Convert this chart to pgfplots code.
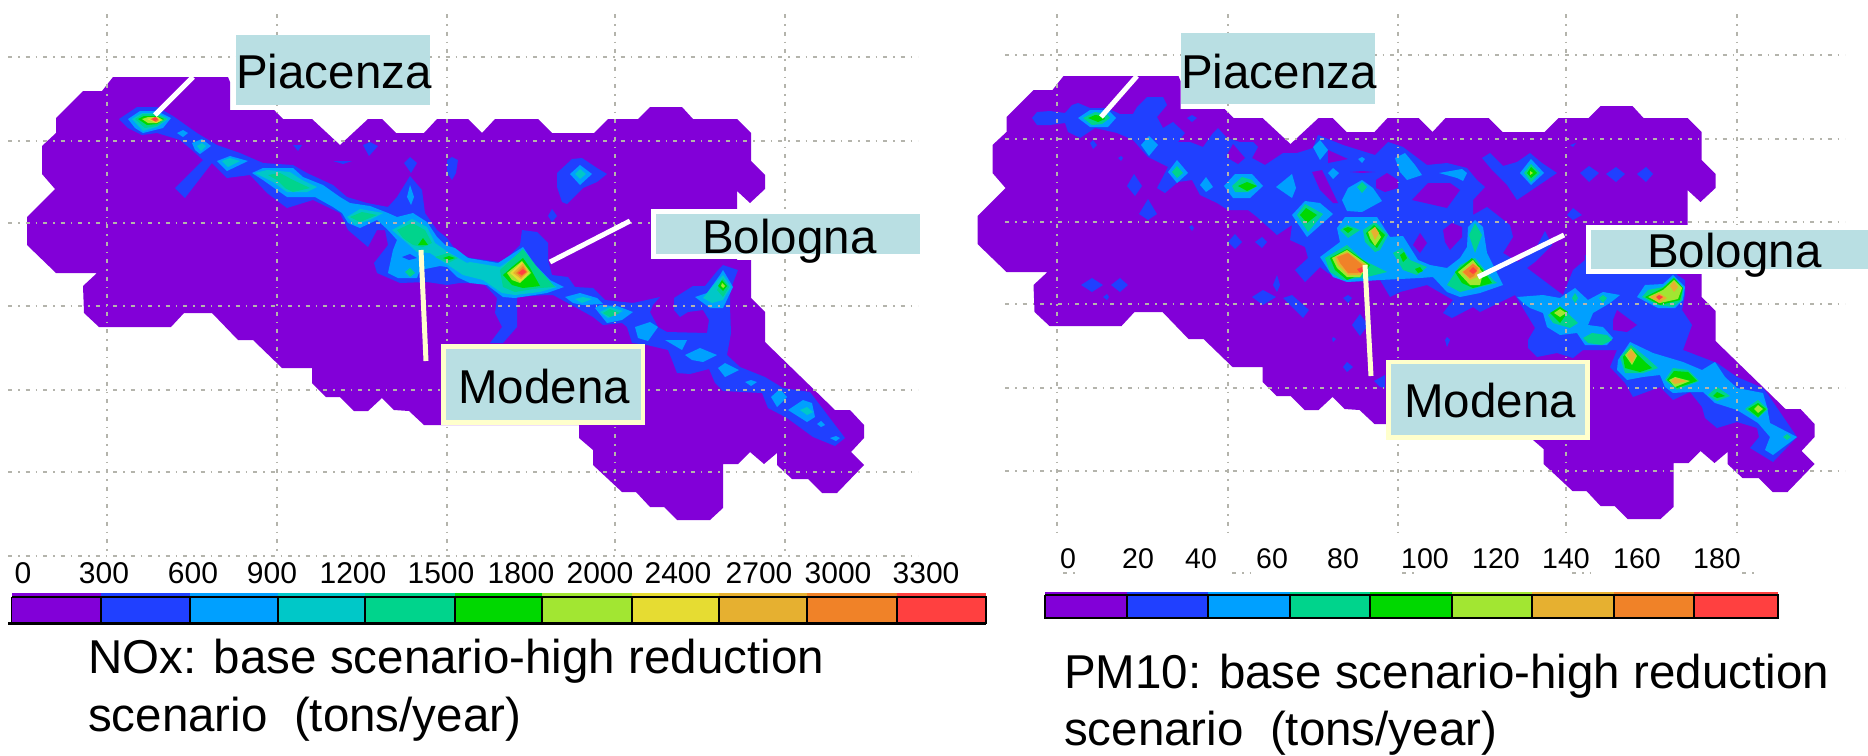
\documentclass[border=0pt]{standalone}
\usepackage{pgfplots}
\usepackage{pgfplotstable}
\usepackage{fontspec}
\setmainfont{Liberation Sans}
\pgfplotsset{compat=1.18}
\definecolor{cA}{HTML}{8200D8}
\definecolor{cB}{HTML}{2040FF}
\definecolor{cC}{HTML}{00A0FF}
\definecolor{cD}{HTML}{00C8C8}
\definecolor{cE}{HTML}{00D48C}
\definecolor{cF}{HTML}{00D800}
\definecolor{cG}{HTML}{A2E632}
\definecolor{cH}{HTML}{E6DC32}
\definecolor{cI}{HTML}{E6B030}
\definecolor{cJ}{HTML}{F08228}
\definecolor{cK}{HTML}{FF4040}
\definecolor{boxc}{HTML}{B9DFE3}
\definecolor{cream}{HTML}{FFFFCC}
\definecolor{gridc}{HTML}{B4B4AC}
\newcommand{\poly}[2]{\addplot[fill=#1,draw=none,mark=none,forget plot] coordinates {#2};}
\newcommand{\cell}[5]{\addplot[fill=#1,draw=black,line width=1.4pt,mark=none,forget plot] coordinates {(#2,#4) (#3,#4) (#3,#5) (#2,#5) (#2,#4)};}
\newcommand{\strip}[5]{\addplot[fill=#1,draw=none,mark=none,forget plot] coordinates {(#2,#4) (#3,#4) (#3,#5) (#2,#5)};}
\newcommand{\gridl}[4]{\addplot[gridc,line width=1.7pt,dash pattern=on 4pt off 6pt on 1.5pt off 6pt,mark=none,forget plot] coordinates {(#1,#2) (#3,#4)};}
\newcommand{\stick}[5]{\addplot[#1,line width=5pt,mark=none,forget plot] coordinates {(#2,#3) (#4,#5)};}
\newcommand{\rct}[5]{\addplot[fill=#1,draw=none,mark=none,forget plot] coordinates {(#2,#3) (#4,#3) (#4,#5) (#2,#5)};}
\newcommand{\bigtxt}[3]{\node[anchor=base west,inner sep=0pt,font=\fontsize{47.5}{50}\selectfont] at (axis cs:#1,#2) {#3};}
\newcommand{\tk}[3]{\node[anchor=base,inner sep=0pt,font=\fontsize{#3}{#3}\selectfont] at (axis cs:#1,#2) {\ifnum#2<570 \fi\tklabel};}
\newcommand{\tl}[4]{\node[anchor=base,inner sep=0pt,font=\fontsize{#3}{#3}\selectfont] at (axis cs:#1,#2) {#4};}
\pgfplotstableread{
x y
113 77
228 77
230 82
230 110
274 110
283 119
312 119
340 145
368 119
382 119
396 133
424 133
437 119
468 119
482 133
495 119
538 119
552 133
594 133
608 119
638 119
650 107
682 107
693 119
737 119
751 133
751 161
765 175
765 189
750 203
737 191
737 260
751 260
751 298
765 312
765 342
835 410
850 410
864 425
864 438
851 452
864 465
837 493
822 493
808 479
792 479
777 465
777 453
764 464
750 452
738 464
723 464
723 508
710 520
677 520
664 507
650 507
636 492
622 492
593 465
593 450
579 438
579 425
424 425
409 411
394 410
382 398
368 411
354 411
340 397
326 397
312 383
312 368
282 368
253 340
238 340
212 313
184 313
171 327
99 327
84 313
83 286
97 273
56 273
27 245
27 217
55 189
42 174
42 146
56 133
56 118
83 91
102 91
}\outline
\begin{document}
\begin{tikzpicture}
\path[use as bounding box] (0,0) rectangle (1868pt,755pt);
\begin{axis}[at={(0,0)},anchor=south west,scale only axis,width=1868pt,height=755pt,
  xmin=0,xmax=1868,ymin=0,ymax=755,y dir=reverse,hide axis,clip=false]
% ---------- left map ----------
\addplot[fill=cA,draw=none,mark=none,forget plot] table[x index=0,y index=1] {\outline};
% main blue band
\poly{cB}{(119,119)(137,107)(157,107)(173,116)(197,133)(217,145)(240,153)(263,163)(293,165)(307,173)(333,185)(347,197)(367,203)(388,207)(397,197)(410,176)(422,190)(425,213)(437,230)(447,238)(457,252)(470,258)(500,262)(508,257)(520,245)(522,230)(537,232)(548,243)(548,260)(552,275)(568,277)(575,287)(593,288)(605,300)(633,303)(660,297)(653,305)(650,312)(658,327)(667,332)(707,333)(709,320)(703,310)(688,312)(680,317)(674,310)(674,298)(693,286)(705,286)(718,270)(723,265)(738,270)(733,283)(730,293)(730,307)(731,333)(727,355)(740,367)(765,377)(783,388)(810,392)(845,438)(835,446)(813,437)(787,418)(768,408)(762,393)(723,391)(715,383)(709,369)(690,374)(677,373)(672,360)(668,350)(647,345)(632,343)(627,327)(622,323)(603,325)(593,317)(577,308)(553,295)(547,295)(517,297)(517,327)(503,343)(490,343)(502,327)(495,313)(497,298)(483,283)(460,283)(447,285)(427,282)(400,283)(377,273)(374,263)(388,245)(385,230)(377,230)(368,247)(348,230)(340,213)(313,200)(287,208)(267,193)(250,175)(227,178)(212,163)(185,198)(175,188)(203,160)(192,150)(180,140)(157,133)(142,135)(128,128)}
\poly{cB}{(410,157)(417,163)(411,173)(404,163)}
\poly{cB}{(293,145)(302,145)(298,151)}
\poly{cB}{(370,142)(378,146)(369,156)(363,145)}
\poly{cB}{(333,161)(352,161)(343,164)}
\poly{cB}{(452,157)(458,160)(456,173)(452,180)(447,173)(447,160)}
\poly{cB}{(552,209)(557,216)(552,222)(548,216)}
\poly{cB}{(557,173)(572,159)(582,158)(597,168)(607,174)(597,182)(583,188)(567,204)(562,202)(557,187)}
% light blue
\poly{cC}{(580,165)(592,174)(580,185)(570,174)}
\poly{cC}{(128,119)(140,111)(157,111)(171,118)(163,128)(143,133)(135,128)}
\poly{cC}{(177,133)(183,130)(188,133)(183,137)}
\poly{cC}{(192,143)(202,139)(211,146)(200,154)(195,150)}
\poly{cC}{(217,161)(230,156)(248,161)(227,171)}
\poly{cC}{(252,173)(263,168)(293,168)(303,177)(323,185)(340,197)(350,203)(370,206)(388,213)(397,217)(413,213)(427,222)(437,237)(445,245)(455,248)(468,258)(498,263)(523,247)(535,265)(550,280)(564,287)(547,293)(515,298)(503,297)(487,285)(470,283)(457,277)(447,267)(440,266)(420,270)(417,278)(398,278)(388,273)(393,250)(397,240)(388,230)(377,220)(360,228)(348,223)(342,213)(333,207)(315,197)(287,197)(277,190)(263,180)}
\poly{cB}{(402,257)(410,254)(417,258)(409,260)}
\poly{cC}{(407,197)(410,185)(414,197)(411,205)}
\poly{cC}{(565,297)(580,293)(597,298)(603,304)(583,305)(573,303)}
\poly{cC}{(595,308)(600,305)(617,306)(633,312)(622,320)(607,323)}
\poly{cC}{(635,327)(650,322)(658,327)(648,341)(638,338)}
\poly{cC}{(665,340)(687,340)(682,350)}
\poly{cC}{(685,355)(700,348)(717,355)(703,362)(692,360)}
\poly{cC}{(718,368)(725,363)(739,370)(725,377)}
\poly{cC}{(745,382)(751,380)(757,382)(751,386)}
\poly{cC}{(771,397)(780,389)(787,397)(777,407)}
\poly{cC}{(788,410)(803,400)(812,403)(815,417)(807,422)}
\poly{cC}{(817,424)(821,421)(825,425)(821,427)}
\poly{cC}{(830,438)(836,436)(840,438)(836,441)}
\poly{cC}{(695,297)(707,293)(720,275)(723,270)(733,287)(723,308)(710,308)}
% cyan
\poly{cD}{(580,169)(586,174)(580,179)(575,174)}
\poly{cD}{(132,119)(142,113)(157,113)(168,119)(157,127)(143,131)}
\poly{cD}{(197,146)(202,143)(206,146)(201,151)}
\poly{cD}{(222,161)(230,158)(240,161)(228,167)}
\poly{cD}{(255,173)(267,170)(290,172)(302,180)(317,187)(307,192)(287,192)(273,182)}
\poly{cD}{(347,217)(360,209)(383,213)(370,220)(355,225)}
\poly{cD}{(392,230)(412,219)(427,227)(435,243)(448,252)(467,263)(470,262)(500,267)(522,252)(530,263)(547,282)(557,287)(540,292)(515,295)(502,293)(483,280)(463,275)(448,265)(430,253)(417,252)(407,243)}
\poly{cD}{(575,299)(583,297)(592,299)(582,303)}
\poly{cD}{(600,312)(610,307)(623,311)(608,318)}
\poly{cD}{(800,410)(807,407)(813,412)(807,415)}
\poly{cD}{(703,298)(718,280)(723,275)(731,287)(723,300)(712,303)}
% teal
\poly{cE}{(135,119)(143,114)(157,114)(167,119)(157,126)(145,128)}
\poly{cE}{(268,175)(280,173)(293,180)(310,188)(293,192)(285,188)(277,180)}
\poly{cE}{(350,217)(362,212)(377,215)(360,222)}
\poly{cE}{(397,230)(412,223)(425,230)(432,243)(423,247)(413,245)(403,238)}
\poly{cE}{(435,257)(448,253)(458,258)(448,263)}
\poly{cE}{(500,270)(523,249)(537,267)(555,287)(540,288)(515,292)(503,287)}
\poly{cE}{(603,313)(610,309)(620,313)(610,317)}
\poly{cE}{(717,290)(723,278)(729,287)(723,297)}
\poly{cE}{(405,272)(410,268)(415,273)(410,277)}
% green and above
\poly{cF}{(138,119)(144,116)(157,116)(164,119)(157,124)(147,125)}
\poly{cF}{(418,245)(423,238)(428,245)}
\poly{cF}{(443,258)(449,256)(455,258)(449,260)}
\poly{cF}{(503,275)(512,267)(523,258)(530,268)(540,286)(523,288)(512,285)}
\poly{cF}{(718,286)(722,280)(727,286)(723,291)}
\poly{cG}{(142,119)(148,117)(158,117)(163,120)(157,123)(148,123)}
\poly{cG}{(507,273)(522,261)(531,273)(520,283)(512,280)}
\poly{cG}{(721,286)(722,283)(725,286)(723,288)}
\poly{cH}{(147,119)(157,117)(161,120)(156,123)}
\poly{cH}{(510,273)(522,262)(529,273)(520,282)}
\poly{cI}{(513,273)(523,263)(528,272)(521,279)}
\poly{cJ}{(150,119)(156,117)(159,120)(156,122)}
\poly{cJ}{(516,273)(523,266)(527,272)(521,277)}
\poly{cK}{(152,119)(155,117)(158,119)(155,121)}
\poly{cK}{(518,273)(523,269)(526,272)(522,275)}
% ---------- right map ----------
\addplot[fill=cA,draw=none,mark=none,forget plot,x filter/.expression={x+950.5},y filter/.expression={y-1}] table[x index=0,y index=1] {\outline};
\poly{cB}{(1032,118)(1037,112)(1050,111)(1065,113)(1072,105)(1078,103)(1090,108)(1107,108)(1120,114)(1133,114)(1137,107)(1147,97)(1163,97)(1167,105)(1157,117)(1163,128)(1173,122)(1185,133)(1178,142)(1190,142)(1203,147)(1213,133)(1218,128)(1227,138)(1240,142)(1253,142)(1258,147)(1252,158)(1265,165)(1283,153)(1297,153)(1313,148)(1318,135)(1343,145)(1375,155)(1388,142)(1403,147)(1427,165)(1447,163)(1467,168)(1477,180)(1485,187)(1473,200)(1473,215)(1487,207)(1510,225)(1513,237)(1503,253)(1518,262)(1535,250)(1545,231)(1552,245)(1535,262)(1527,268)(1563,295)(1573,270)(1585,260)(1585,255)(1677,255)(1677,275)(1685,280)(1685,295)(1682,310)(1692,325)(1683,350)(1717,363)(1737,377)(1763,388)(1767,393)(1797,437)(1773,462)(1750,448)(1759,437)(1757,428)(1737,422)(1717,428)(1705,418)(1702,407)(1690,392)(1673,400)(1660,387)(1633,397)(1625,383)(1610,367)(1617,350)(1583,350)(1573,358)(1557,353)(1537,357)(1528,348)(1528,340)(1535,328)(1515,295)(1480,312)(1473,307)(1452,318)(1443,313)(1453,300)(1427,285)(1400,292)(1390,297)(1380,280)(1347,282)(1328,273)(1320,267)(1305,282)(1295,270)(1308,258)(1305,247)(1290,240)(1292,225)(1277,235)(1257,217)(1248,210)(1228,210)(1217,203)(1200,195)(1192,180)(1178,182)(1165,193)(1157,188)(1168,167)(1148,157)(1133,140)(1117,133)(1095,128)(1080,138)(1068,132)(1065,123)(1050,125)(1037,125)}
% purple holes
\poly{cA}{(1233,144)(1245,158)(1238,164)(1226,157)}
\poly{cA}{(1328,150)(1348,159)(1328,163)}
\poly{cA}{(1312,172)(1322,170)(1338,203)(1333,203)(1320,190)}
\poly{cA}{(1376,180)(1387,173)(1398,180)(1398,188)(1385,192)(1376,188)}
\poly{cA}{(1350,172)(1362,171)(1375,172)(1362,173)}
\poly{cA}{(1412,200)(1428,183)(1450,183)(1460,190)(1447,208)}
\poly{cA}{(1443,230)(1452,223)(1462,227)(1462,237)(1450,250)(1445,242)}
\poly{cA}{(1413,245)(1420,233)(1427,243)(1420,253)}
\poly{cA}{(1613,320)(1617,310)(1637,325)(1627,332)(1613,330)}
% isolated blue
\poly{cB}{(1187,118)(1192,115)(1197,118)(1192,122)}
\poly{cB}{(1090,143)(1093,140)(1097,145)(1093,149)}
\poly{cB}{(1118,158)(1121,156)(1123,158)(1121,161)}
\poly{cB}{(1127,186)(1134,174)(1142,186)(1135,196)}
\poly{cB}{(1139,214)(1148,199)(1157,214)(1148,220)}
\poly{cB}{(1189,227)(1192,225)(1194,228)(1192,231)}
\poly{cB}{(1228,242)(1235,234)(1242,242)(1235,249)}
\poly{cB}{(1255,242)(1262,237)(1267,242)(1262,248)}
\poly{cB}{(1081,285)(1092,278)(1103,285)(1092,292)}
\poly{cB}{(1111,285)(1120,278)(1128,285)(1120,292)}
\poly{cB}{(1103,297)(1107,294)(1109,297)(1107,300)}
\poly{cB}{(1252,297)(1263,290)(1276,297)(1263,305)}
\poly{cB}{(1273,285)(1277,275)(1280,285)(1277,292)}
\poly{cB}{(1283,298)(1292,295)(1309,310)(1303,318)}
\poly{cB}{(1343,298)(1348,295)(1352,298)(1348,303)}
\poly{cB}{(1352,325)(1360,314)(1368,325)(1360,336)}
\poly{cB}{(1332,339)(1333,337)(1336,339)(1333,342)}
\poly{cB}{(1343,367)(1347,362)(1353,367)(1347,372)}
\poly{cB}{(1374,381)(1385,375)(1385,388)(1380,387)}
\poly{cB}{(1445,340)(1447,337)(1450,340)(1447,347)}
\poly{cB}{(1567,215)(1573,208)(1582,215)(1573,220)}
\poly{cB}{(1482,158)(1490,153)(1503,166)(1517,162)(1530,153)(1542,163)(1557,173)(1517,200)(1507,185)(1492,170)}
\poly{cB}{(1580,173)(1589,166)(1599,173)(1589,182)}
\poly{cB}{(1606,174)(1616,167)(1625,174)(1616,182)}
\poly{cB}{(1637,174)(1646,167)(1653,174)(1646,182)}
\poly{cB}{(1570,145)(1576,143)(1573,147)}
% light blue
\poly{cC}{(1520,173)(1531,159)(1544,173)(1531,185)}
\poly{cC}{(1141,145)(1149,136)(1158,145)(1149,156)}
\poly{cC}{(1078,118)(1090,110)(1108,110)(1116,118)(1108,127)(1090,127)}
\poly{cC}{(1168,172)(1177,160)(1188,173)(1177,183)}
\poly{cC}{(1200,185)(1206,177)(1213,187)(1206,192)}
\poly{cC}{(1224,186)(1235,174)(1252,174)(1263,186)(1250,198)(1233,198)}
\poly{cC}{(1276,187)(1292,174)(1296,188)(1292,198)}
\poly{cC}{(1328,173)(1333,168)(1339,173)(1333,179)}
\poly{cC}{(1313,147)(1320,140)(1328,150)(1320,160)}
\poly{cC}{(1358,159)(1362,157)(1365,159)(1362,163)}
\poly{cC}{(1292,215)(1305,201)(1320,203)(1333,214)(1307,237)}
\poly{cC}{(1342,200)(1348,188)(1362,180)(1373,188)(1382,201)(1362,212)(1347,211)}
\poly{cC}{(1395,158)(1405,153)(1415,165)(1422,175)(1407,180)(1400,172)}
\poly{cC}{(1439,173)(1462,169)(1467,173)(1463,181)(1457,178)}
\poly{cC}{(1320,257)(1340,242)(1337,228)(1345,217)(1377,217)(1390,237)(1403,236)(1418,260)(1430,265)(1447,268)(1460,258)(1467,247)(1468,227)(1475,220)(1483,227)(1487,253)(1497,273)(1503,285)(1480,293)(1460,297)(1447,292)(1433,277)(1420,278)(1380,280)(1347,282)(1333,277)}
\poly{cC}{(1637,297)(1645,285)(1663,284)(1673,275)(1685,287)(1683,300)(1675,308)(1658,308)}
\poly{cC}{(1517,297)(1543,295)(1560,298)(1575,288)(1588,300)(1603,292)(1620,295)(1610,303)(1593,313)(1588,325)(1603,327)(1613,338)(1607,345)(1585,345)(1577,333)(1560,335)(1547,327)(1543,313)(1530,308)(1523,303)}
\poly{cC}{(1618,360)(1630,342)(1653,353)(1683,362)(1702,370)(1715,362)(1725,377)(1737,388)(1763,393)(1767,407)(1770,423)(1797,437)(1773,455)(1765,450)(1770,437)(1758,423)(1737,410)(1715,403)(1703,392)(1690,392)(1673,393)(1665,387)(1660,375)(1643,377)(1627,380)(1617,370)}
\poly{cB}{(1543,340)(1548,340)(1546,343)}
\poly{cB}{(1568,340)(1576,338)(1577,347)(1573,345)}
% teal
\poly{cE}{(1524,173)(1531,164)(1540,173)(1531,182)}
\poly{cE}{(1083,118)(1095,112)(1107,114)(1110,118)(1102,124)(1092,125)}
\poly{cE}{(1172,172)(1177,166)(1183,173)(1177,178)}
\poly{cE}{(1232,186)(1242,177)(1252,180)(1257,186)(1248,192)(1235,192)}
\poly{cE}{(1297,215)(1305,204)(1323,214)(1308,232)}
\poly{cE}{(1357,187)(1362,182)(1367,187)(1362,193)}
\poly{cE}{(1340,230)(1347,225)(1360,230)(1348,238)}
\poly{cE}{(1363,230)(1375,222)(1388,235)(1380,250)(1375,252)(1365,242)}
\poly{cE}{(1325,258)(1347,245)(1363,260)(1387,272)(1367,277)(1343,280)(1330,272)}
\poly{cE}{(1393,253)(1402,248)(1410,260)(1427,267)(1417,275)(1403,270)}
\poly{cE}{(1447,285)(1460,265)(1475,258)(1493,280)(1497,283)(1480,287)(1460,292)}
\poly{cE}{(1469,235)(1475,223)(1482,235)(1475,253)}
\poly{cE}{(1642,297)(1648,290)(1663,287)(1674,277)(1683,288)(1682,300)(1673,307)(1657,305)}
\poly{cE}{(1583,338)(1592,333)(1607,335)(1612,340)(1602,345)(1588,343)}
\poly{cE}{(1548,315)(1560,306)(1578,323)(1570,328)(1553,323)}
\poly{cE}{(1572,298)(1575,293)(1578,298)(1575,303)}
\poly{cE}{(1599,298)(1603,295)(1607,298)(1603,303)}
\poly{cE}{(1620,357)(1631,345)(1647,358)(1658,368)(1643,373)(1625,373)}
\poly{cE}{(1665,380)(1673,368)(1688,370)(1699,381)(1677,390)}
\poly{cE}{(1708,395)(1717,387)(1730,396)(1717,401)}
\poly{cE}{(1745,409)(1758,400)(1768,409)(1758,418)}
\poly{cE}{(1783,437)(1787,434)(1791,437)(1787,440)}
% green
\poly{cF}{(1527,173)(1531,167)(1537,173)(1531,178)}
\poly{cF}{(1088,118)(1095,115)(1103,116)(1105,119)(1098,122)}
\poly{cF}{(1238,186)(1247,182)(1257,186)(1247,191)}
\poly{cF}{(1300,215)(1306,208)(1317,215)(1307,223)}
\poly{cF}{(1330,258)(1347,249)(1370,265)(1365,273)(1347,280)(1335,270)}
\poly{cF}{(1343,229)(1348,227)(1353,229)(1348,233)}
\poly{cF}{(1366,233)(1374,225)(1385,235)(1377,248)(1370,242)}
\poly{cF}{(1400,255)(1404,252)(1407,258)(1403,262)}
\poly{cF}{(1415,269)(1420,267)(1423,271)(1418,273)}
\poly{cF}{(1455,272)(1472,258)(1483,270)(1492,283)(1473,288)(1462,283)}
\poly{cF}{(1645,297)(1663,288)(1674,278)(1683,288)(1680,300)(1660,305)}
\poly{cF}{(1550,313)(1560,307)(1568,312)(1560,323)}
\poly{cF}{(1623,357)(1631,348)(1645,362)(1652,368)(1640,372)(1625,368)}
\poly{cF}{(1667,380)(1674,371)(1688,372)(1697,381)(1677,388)}
\poly{cF}{(1713,396)(1717,392)(1725,396)(1717,398)}
\poly{cF}{(1748,409)(1758,403)(1766,409)(1758,417)}
% lime
\poly{cG}{(1530,171)(1533,173)(1530,175)}
\poly{cG}{(1332,258)(1347,250)(1368,265)(1360,277)(1347,277)(1337,268)}
\poly{cG}{(1368,232)(1375,227)(1381,237)(1375,246)(1370,238)}
\poly{cG}{(1458,272)(1473,260)(1483,273)(1480,285)(1470,285)}
\poly{cG}{(1648,297)(1663,290)(1674,280)(1682,288)(1678,299)(1660,303)}
\poly{cG}{(1554,313)(1560,309)(1566,313)(1560,317)}
\poly{cG}{(1625,355)(1631,348)(1637,356)(1632,365)}
\poly{cG}{(1669,380)(1675,377)(1690,381)(1675,387)}
\poly{cG}{(1754,409)(1758,405)(1763,409)(1758,413)}
% gold, orange, red
\poly{cI}{(1335,257)(1347,252)(1367,266)(1360,275)(1348,275)(1338,265)}
\poly{cI}{(1371,231)(1375,227)(1379,233)(1375,240)}
\poly{cI}{(1462,272)(1473,263)(1480,268)(1477,277)(1470,280)}
\poly{cI}{(1670,286)(1674,281)(1678,287)(1674,292)}
\poly{cI}{(1650,297)(1659,293)(1667,298)(1659,303)}
\poly{cI}{(1627,355)(1631,350)(1636,355)(1632,363)}
\poly{cI}{(1671,381)(1675,378)(1687,381)(1675,384)}
\poly{cJ}{(1337,257)(1348,253)(1365,267)(1358,273)(1348,273)(1340,263)}
\poly{cJ}{(1463,272)(1473,264)(1478,268)(1474,276)(1470,278)}
\poly{cK}{(1357,269)(1365,266)(1367,270)(1360,273)}
\poly{cK}{(1469,271)(1473,267)(1477,271)(1473,274)}
\poly{cK}{(1656,297)(1659,295)(1663,297)(1659,300)}
% ---------- grid ----------
\gridl{8}{57}{918}{57}\gridl{8}{141}{918}{141}\gridl{8}{223}{918}{223}\gridl{8}{306}{918}{306}\gridl{8}{390}{918}{390}\gridl{8}{472}{918}{472}\gridl{8}{556}{918}{556}
\gridl{107}{14}{107}{555}\gridl{277}{14}{277}{555}\gridl{447}{14}{447}{555}\gridl{615}{14}{615}{555}\gridl{785}{14}{785}{555}
\gridl{1005}{55}{1845}{55}\gridl{1005}{139}{1845}{139}\gridl{1005}{222}{1845}{222}\gridl{1005}{304}{1845}{304}\gridl{1005}{388}{1845}{388}\gridl{1005}{471}{1845}{471}
\gridl{1057}{14}{1057}{533}\gridl{1228}{14}{1228}{533}\gridl{1398}{14}{1398}{533}\gridl{1566}{14}{1566}{533}\gridl{1737}{14}{1737}{533}
% ---------- colour bars ----------
\strip{cA}{11.5}{101}{593}{597}\strip{cB}{101}{190}{593}{597}\strip{cC}{190}{278}{593}{597}\strip{cD}{278}{365}{593}{597}\strip{cE}{365}{455}{593}{597}\strip{cF}{455}{542}{593}{597}\strip{cG}{542}{632}{593}{597}\strip{cH}{632}{719}{593}{597}\strip{cI}{719}{807}{593}{597}\strip{cJ}{807}{897}{593}{597}\strip{cK}{897}{986}{593}{597}
\cell{cA}{11.5}{101}{597}{623}\cell{cB}{101}{190}{597}{623}\cell{cC}{190}{278}{597}{623}\cell{cD}{278}{365}{597}{623}\cell{cE}{365}{455}{597}{623}\cell{cF}{455}{542}{597}{623}\cell{cG}{542}{632}{597}{623}\cell{cH}{632}{719}{597}{623}\cell{cI}{719}{807}{597}{623}\cell{cJ}{807}{897}{597}{623}\cell{cK}{897}{986}{597}{623}
\addplot[black,line width=2.6pt,mark=none,forget plot] coordinates {(8,623.5) (986,623.5)};
\strip{cA}{1045}{1127}{592}{595}\strip{cB}{1127}{1208}{592}{595}\strip{cC}{1208}{1290}{592}{595}\strip{cE}{1290}{1370}{592}{595}\strip{cF}{1370}{1452}{592}{595}\strip{cG}{1452}{1532}{592}{595}\strip{cI}{1532}{1614}{592}{595}\strip{cJ}{1614}{1694}{592}{595}\strip{cK}{1694}{1778}{592}{595}
\cell{cA}{1045}{1127}{595}{618}\cell{cB}{1127}{1208}{595}{618}\cell{cC}{1208}{1290}{595}{618}\cell{cE}{1290}{1370}{595}{618}\cell{cF}{1370}{1452}{595}{618}\cell{cG}{1452}{1532}{595}{618}\cell{cI}{1532}{1614}{595}{618}\cell{cJ}{1614}{1694}{595}{618}\cell{cK}{1694}{1778}{595}{618}
% stray dots under PM10 numbers
\gridl{1063}{573}{1075}{573}\gridl{1232}{573}{1250}{573}\gridl{1402}{573}{1418}{573}\gridl{1572}{573}{1590}{573}\gridl{1742}{573}{1758}{573}
% ---------- label boxes ----------
\rct{boxc}{236}{35}{430}{105}
\rct{white}{651}{209}{920}{259}\rct{boxc}{656}{214}{920}{254}
\rct{cream}{441}{344}{645}{425}\rct{boxc}{446}{349}{641}{420}
\stick{white}{155}{115}{193}{77}
\stick{white}{550}{262}{630}{221}
\stick{cream}{421}{250}{426}{361}
\rct{boxc}{1181}{33}{1375}{104}
\rct{white}{1586}{225}{1868}{274}\rct{boxc}{1591}{230}{1868}{269}
\rct{cream}{1386}{360}{1590}{440}\rct{boxc}{1391}{364}{1585}{435}
\stick{white}{1101}{117}{1137}{76}
\stick{white}{1478}{277}{1564}{235}
\stick{cream}{1365}{265}{1371}{376}
% ---------- text ----------
\bigtxt{236}{88}{Piacenza}
\bigtxt{702}{253}{Bologna}
\bigtxt{458}{403}{Modena}
\bigtxt{1181}{88}{Piacenza}
\bigtxt{1647}{267}{Bologna}
\bigtxt{1404}{417}{Modena}
\bigtxt{88}{673}{NOx: base scenario-high reduction}
\bigtxt{88}{731}{scenario\ \ (tons/year)}
\bigtxt{1064}{688}{PM10: base scenario-high reduction}
\bigtxt{1064}{745}{scenario\ \ (tons/year)}
\tl{23}{583}{30}{0}\tl{104}{583}{30}{300}\tl{193}{583}{30}{600}\tl{272}{583}{30}{900}\tl{353}{583}{30}{1200}\tl{441}{583}{30}{1500}\tl{521}{583}{30}{1800}\tl{600}{583}{30}{2000}\tl{678}{583}{30}{2400}\tl{759}{583}{30}{2700}\tl{838}{583}{30}{3000}\tl{926}{583}{30}{3300}
\tl{1068}{568}{28.5}{0}\tl{1138}{568}{28.5}{20}\tl{1201}{568}{28.5}{40}\tl{1272}{568}{28.5}{60}\tl{1343}{568}{28.5}{80}\tl{1425}{568}{28.5}{100}\tl{1496}{568}{28.5}{120}\tl{1566}{568}{28.5}{140}\tl{1637}{568}{28.5}{160}\tl{1717}{568}{28.5}{180}
\end{axis}
\end{tikzpicture}
\end{document}
